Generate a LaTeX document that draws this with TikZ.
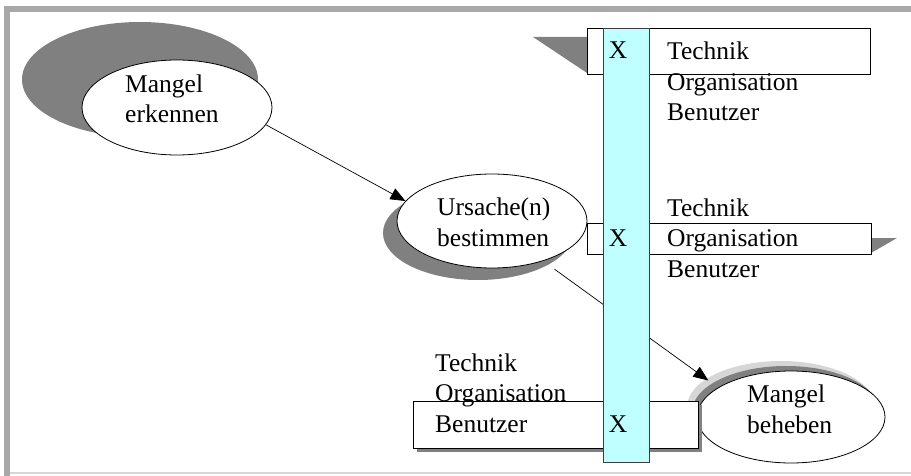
\documentclass[tikz,border=0pt]{standalone}
\usepackage{fontspec}
\setmainfont{Liberation Serif}
\usetikzlibrary{arrows.meta,shapes.geometric}
\definecolor{shdark}{RGB}{128,128,128}
\definecolor{shlight}{RGB}{214,214,214}
\definecolor{framegray}{RGB}{168,168,168}
\definecolor{barcyan}{RGB}{192,255,255}
\begin{document}
\begin{tikzpicture}[x=1pt,y=-1pt,
  lbl/.style={font=\fontsize{25.5}{30.5}\selectfont, inner sep=0, anchor=base west, align=left},
  xlbl/.style={font=\fontsize{25.5}{30.5}\selectfont, inner sep=0, anchor=base},
  oval/.style={ellipse, draw=black, fill=white, line width=0.8pt, inner sep=0},
  box/.style={rectangle, draw=black, fill=white, line width=0.8pt, inner sep=0},
  conn/.style={line width=0.7pt, -{Triangle[length=15pt,width=12pt]}}
]
\useasboundingbox (0,0) rectangle (911,476);
% frame
\fill[framegray] (4,6) rectangle (911,12);
\fill[framegray] (4,6) rectangle (10,476);
\draw[shlight, line width=1.2pt] (10,473) -- (911,473);

% ellipse shadows and ellipses
\fill[shdark] (140,79.5) ellipse [x radius=118, y radius=57.5];
\node[oval, minimum width=190pt, minimum height=95pt] (me) at (177,107.5) {};

\fill[shdark] (478,233) ellipse [x radius=95, y radius=47];
\node[oval, minimum width=190pt, minimum height=94pt] (ur) at (492,221) {};

\fill[shlight] (781,407) ellipse [x radius=94, y radius=46];
\fill[shdark] (786,412) ellipse [x radius=94, y radius=46];
\node[oval, minimum width=188pt, minimum height=92pt] (mb) at (791,417) {};

% boxes
\fill[shdark] (533,37) -- (587,37) -- (587,73) -- cycle;
\node[box, minimum width=283pt, minimum height=46pt] (b1) at (728.5,51) {};
\fill[shdark] (871,238) -- (897,238) -- (871,253) -- cycle;
\node[box, minimum width=284pt, minimum height=31pt] (b2) at (729,238.5) {};
\fill[shdark] (417,405) rectangle (702,452);
\node[box, minimum width=285pt, minimum height=47pt] (b3) at (555.5,424.5) {};

% texts (anchor = baseline of last line)
\node[lbl] (tme) at (125,123) {Mangel\\erkennen};
\node[lbl] (tur) at (437,246) {Ursache(n)\\bestimmen};
\node[lbl] (tmb) at (747,433) {Mangel\\beheben};
\node[lbl] (t1) at (667,121) {Technik\\Organisation\\Benutzer};
\node[lbl] (t2) at (667,277) {Technik\\Organisation\\Benutzer};
\node[lbl] (t3) at (435,432) {Technik\\Organisation\\Benutzer};

% connectors
\draw[conn] (me.-11) -- (ur.167);
\draw[conn, shorten <=14pt, shorten >=12pt] (ur.-38) -- (mb.158);

% bar
\node[rectangle, draw={rgb,255:red,60;green,60;blue,60}, fill=barcyan, line width=0.8pt,
  minimum width=46pt, minimum height=434pt, inner sep=0] (bar) at (626,245) {};
\node[xlbl] (x1) at (618,59) {X};
\node[xlbl] (x2) at (618,247) {X};
\node[xlbl] (x3) at (618,432) {X};
\end{tikzpicture}
\end{document}
